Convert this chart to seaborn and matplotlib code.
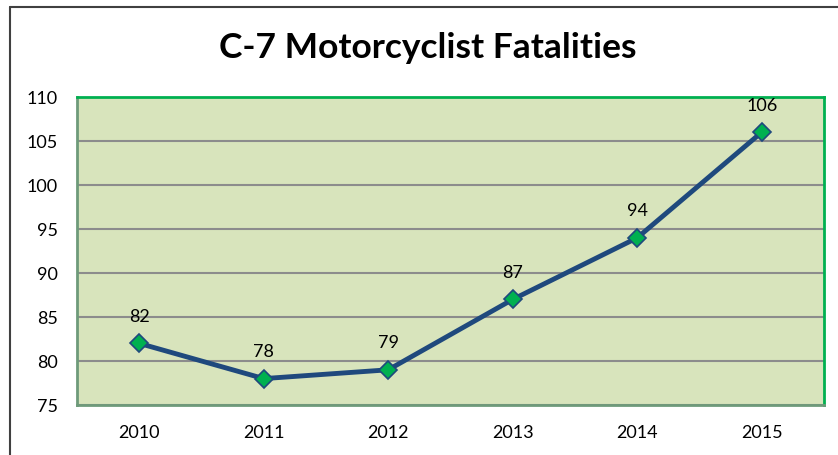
import matplotlib
matplotlib.use("Agg")
import matplotlib.pyplot as plt
import seaborn as sns
import pandas as pd
from matplotlib.lines import Line2D

# data
years = ["2010", "2011", "2012", "2013", "2014", "2015"]
fatalities = [82, 78, 79, 87, 94, 106]
y_ticks = [75, 80, 85, 90, 95, 100, 105, 110]

df = pd.DataFrame({"year": years, "fatalities": fatalities})

sns.set_style("white")
plt.rcParams["font.family"] = ["Lato", "DejaVu Sans"]

fig = plt.figure(figsize=(8.38, 4.56), dpi=100)
ax = fig.add_axes([77 / 838, 1 - 406 / 456, (824 - 77) / 838, (406 - 98) / 456])
ax.set_facecolor("#D8E4BC")

sns.lineplot(data=df, x="year", y="fatalities", ax=ax, color="#1F497D",
             linewidth=3.5, marker="D", markersize=9,
             markerfacecolor="#00B050", markeredgecolor="#1F497D",
             markeredgewidth=1.2, zorder=5)

for i, v in enumerate(fatalities):
    ax.annotate(str(v), (i, v), xytext=(0, 14), textcoords="offset points",
                ha="center", va="bottom", fontsize=13, color="black")

ax.set_xlim(-0.5, len(years) - 0.5)
ax.set_ylim(75, 110)
ax.set_yticks(y_ticks)
ax.yaxis.grid(True, color="#8C8C8C", linewidth=1.5)
ax.set_axisbelow(True)
ax.set_xlabel("")
ax.set_ylabel("")
ax.tick_params(axis="both", length=0, labelsize=13, colors="black")
ax.tick_params(axis="x", pad=14)
ax.tick_params(axis="y", pad=14)

ax.spines["top"].set_color("#00B050")
ax.spines["right"].set_color("#00B050")
ax.spines["left"].set_color("#6E9A7A")
ax.spines["bottom"].set_color("#6E9A7A")
for s in ax.spines.values():
    s.set_linewidth(2)
    s.set_visible(True)

fig.text(428 / 838, 1 - 48 / 456, "C-7 Motorcyclist Fatalities", ha="center",
         va="center", fontsize=25.5, fontweight="bold", color="black")

# outer chart frame (partly cropped in the original)
fig.add_artist(Line2D([10 / 838, 10 / 838], [0, 1 - 8 / 456], color="#404040", linewidth=1.5))
fig.add_artist(Line2D([10 / 838, 1], [1 - 8 / 456, 1 - 8 / 456], color="#404040", linewidth=1.5))

fig.savefig("out.png", dpi=100)
